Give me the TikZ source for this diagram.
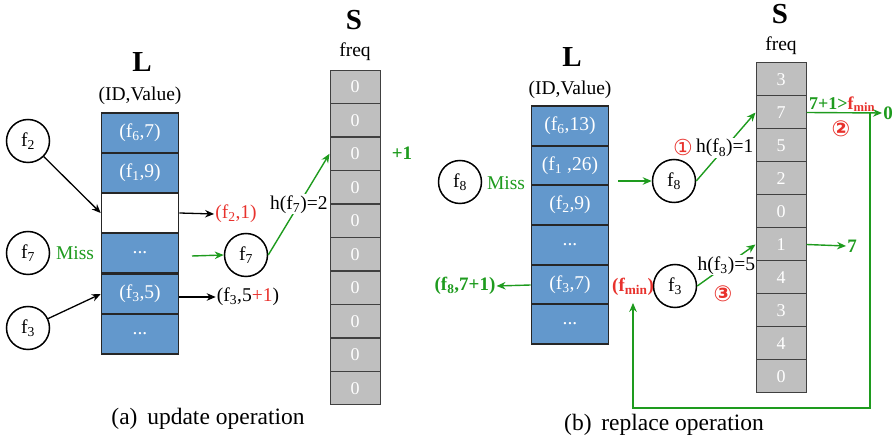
\documentclass[tikz,border=0pt]{standalone}
\usepackage{fontspec}
\setmainfont{Liberation Serif}
\newfontfamily\symfont{DejaVu Sans}
\usetikzlibrary{arrows.meta}
\definecolor{gr}{RGB}{30,155,30}
\definecolor{rd}{RGB}{232,50,45}
\definecolor{lb}{RGB}{99,152,204}
\definecolor{sg}{RGB}{191,191,191}
\newcommand\sbs[1]{\textsubscript{#1}}
\tikzset{
  x=1pt, y=-1pt,
  lcell/.style={rectangle, draw=black!85, line width=1.6pt, fill=lb, minimum width=77pt, minimum height=40pt, text=white, font=\fontsize{19.5}{21}\selectfont, inner sep=0pt},
  scell/.style={rectangle, draw=black!75, line width=1pt, fill=sg, minimum width=50pt, minimum height=33pt, text=white, font=\fontsize{18}{20}\selectfont, inner sep=0pt},
  fcirc/.style={circle, draw=black, line width=1.5pt, minimum size=43pt, inner sep=0pt, font=\fontsize{19.5}{21}\selectfont},
  txt/.style={font=\fontsize{19.5}{21}\selectfont, inner sep=1pt},
  big/.style={font=\fontsize{29}{31}\selectfont\bfseries},
  captxt/.style={font=\fontsize{23.5}{25}\selectfont},
  garrow/.style={draw=gr, line width=1.4pt, -{Stealth[length=9pt,width=7.5pt]}},
  barrow/.style={draw=black, line width=1.3pt, -{Stealth[length=9pt,width=7.5pt]}},
  gbold/.style={text=gr, font=\fontsize{19}{21}\selectfont\bfseries, inner sep=1pt},
  rbold/.style={text=rd, font=\fontsize{19}{21}\selectfont\bfseries, inner sep=1pt},
  circnum/.style={text=rd, font=\symfont\fontsize{22}{24}\selectfont, inner sep=0pt},
}
\begin{document}
\begin{tikzpicture}
\useasboundingbox (0,0) rectangle (895,443);
% ---------------- (a) ----------------
\node[big] (La) at (142,62) {L};
\node[txt] (IDa) at (140,96) {(ID,Value)};
\node[lcell] (La1) at (140,133) {(f\sbs{6},7)};
\node[lcell] (La2) at (140,173) {(f\sbs{1},9)};
\node[lcell, fill=white] (La3) at (140,213) {};
\node[lcell] (La4) at (140,253) {...};
\node[lcell] (La5) at (140,294) {(f\sbs{3},5)};
\node[lcell] (La6) at (140,334) {...};

\node[big] (Sa) at (354,20) {S};
\node[txt] (freqa) at (355,52) {freq};
\foreach \i in {1,...,10}{
  \node[scell] (Sa\i) at (355,{70+33.5*(\i-0.5)}) {0};
}
\node[gbold] (plus1) at (402,153) {+1};

\node[fcirc] (f2a) at (28,141) {f\sbs{2}};
\node[fcirc] (f7a) at (28,253) {f\sbs{7}};
\node[fcirc] (f3a) at (28,328) {f\sbs{3}};
\node[txt, text=gr] (missa) at (75,253) {Miss};

\draw[barrow] (f2a) -- (La3.west);
\draw[barrow] (f3a) -- (La5.west);

\node[txt, text=rd] (out2) at (236,214) {(f\sbs{2},1)};
\draw[barrow] (La3.east) -- (out2.west);
\node[txt] (out3) at (248,297) {(f\sbs{3},5\textcolor{rd}{+1})};
\draw[barrow] (La5.east |- out3) -- (out3.west);

\coordinate (ga) at (192,256);
\node[fcirc] (f7b) at (246,255) {f\sbs{7}};
\draw[garrow] (ga) -- (f7b.west);
\draw[garrow] (f7b.east) -- node[txt, fill=white, pos=0.5] (ha) {h(f\sbs{7})=2} (Sa3.west);

\node[captxt] (capa) at (208,419) {(a)\, update operation};

% ---------------- (b) ----------------
\node[big] (Lb) at (572,57) {L};
\node[txt] (IDb) at (570,90) {(ID,Value)};
\node[lcell] (Lb1) at (570,126) {(f\sbs{6},13)};
\node[lcell] (Lb2) at (570,166) {(f\sbs{1} ,26)};
\node[lcell] (Lb3) at (570,205) {(f\sbs{2},9)};
\node[lcell] (Lb4) at (570,245) {...};
\node[lcell] (Lb5) at (570,285) {(f\sbs{3},7)};
\node[lcell] (Lb6) at (570,324) {...};

\node[big] (Sb) at (780,14) {S};
\node[txt] (freqb) at (781,46) {freq};
\foreach \i/\v in {1/3,2/7,3/5,4/2,5/0,6/1,7/4,8/3,9/4,10/0}{
  \node[scell] (Sb\i) at (781,{63+33*(\i-0.5)}) {\v};
}

\node[fcirc] (f8a) at (460,182) {f\sbs{8}};
\node[txt, text=gr] (missb) at (506,183) {Miss};
\coordinate (gb) at (618,181);
\node[fcirc] (f8b) at (674,181) {f\sbs{8}};
\draw[garrow] (gb) -- (f8b.west);
\draw[garrow] (f8b.east) -- node[txt, fill=white, pos=0.48] (hb) {h(f\sbs{8})=1} (Sb2.west);
\node[circnum] (c1) at (683,147) {①};

\node[font=\fontsize{18}{20}\selectfont\bfseries, inner sep=1pt, anchor=south] (cmp) at (842,113) {\textcolor{gr}{7+1>}\textcolor{rd}{f\sbs{min}}};
\node[gbold] (zero) at (888,113) {0};
\draw[garrow] (Sb2.east) -- (zero.west);
\node[circnum, font=\symfont\bfseries\fontsize{22}{24}\selectfont] (c2) at (841,129) {②};

\node[fcirc] (f3b) at (675,286) {f\sbs{3}};
\draw[garrow] (f3b.east) -- node[txt, fill=white, pos=0.5] (hc) {h(f\sbs{3})=5} (Sb6.west);
\node[circnum, font=\symfont\bfseries\fontsize{22}{24}\selectfont] (c3) at (723,294) {③};

\node[gbold] (seven) at (852,246) {7};
\draw[garrow] (Sb6.east) -- (seven.west);

\node[rbold] (fmin) at (633,287) {(f\sbs{min})};
\coordinate (vt) at (870,113);
\coordinate (vb) at (870,408);
\draw[garrow] (vt) -- (vb) -| ([yshift=-6pt]fmin.south);

\node[gbold] (f87) at (465,286) {(f\sbs{8},7+1)};
\draw[garrow] (Lb5.west) -- (f87.east);

\node[captxt] (capb) at (664,425) {(b)\, replace operation};
\end{tikzpicture}
\end{document}
